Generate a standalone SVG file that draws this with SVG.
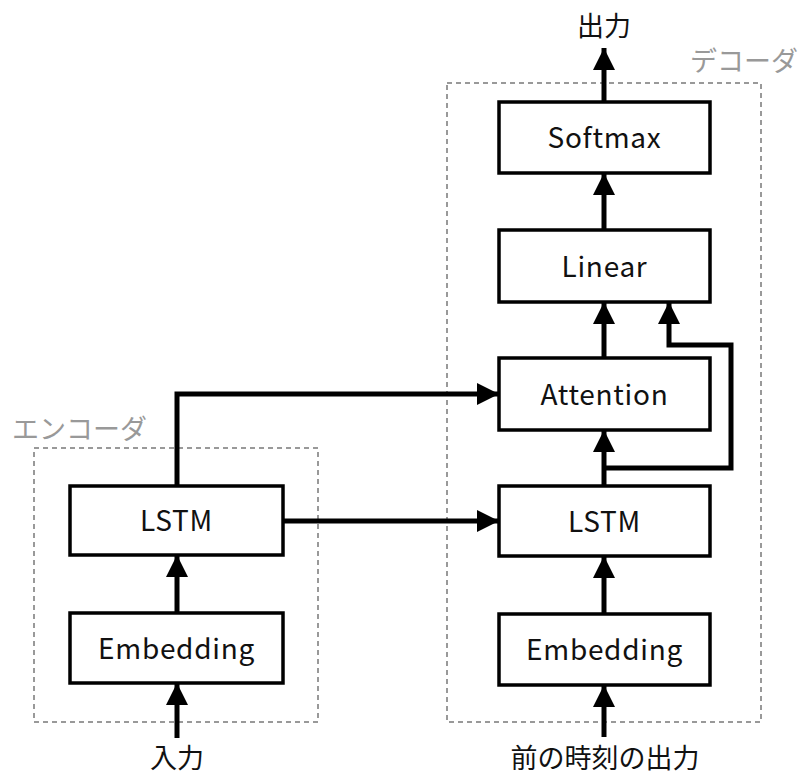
<svg xmlns="http://www.w3.org/2000/svg" width="807" height="778" viewBox="0 0 807 778">
  <defs>
    <marker id="arrow" viewBox="0 0 22 22" refX="22" refY="11" markerWidth="22" markerHeight="22" markerUnits="userSpaceOnUse" orient="auto">
      <path d="M0,0 L22,11 L0,22 Z" fill="#000"/>
    </marker>
    <style>
      .node rect { fill: #fff; stroke: #000; stroke-width: 3.5; }
      .node text { font-family: "Noto Sans CJK JP", "Noto Sans", sans-serif; font-size: 28px; letter-spacing: 0.7px; text-anchor: middle; fill: #111; }
      .group { fill: none; stroke: #999; stroke-width: 2; stroke-dasharray: 5 4; }
      .glabel { font-family: "Noto Sans CJK JP", sans-serif; font-size: 27px; fill: #999; }
      .io { font-family: "Noto Sans CJK JP", sans-serif; font-size: 27px; fill: #111; text-anchor: middle; }
      .edge { fill: none; stroke: #000; stroke-width: 5; marker-end: url(#arrow); }
    </style>
  </defs>
  <rect width="807" height="778" fill="#fff"/>

  <!-- encoder / decoder groups -->
  <rect class="group" x="34" y="448" width="284" height="274"/>
  <text class="glabel" x="12" y="439">エンコーダ</text>
  <rect class="group" x="447" y="83" width="314" height="639"/>
  <text class="glabel" x="690" y="71">デコーダ</text>

  <!-- connectors -->
  <g id="edges">
    <path class="edge" d="M177,738 V683"/>
    <path class="edge" d="M177,613 V555"/>
    <path class="edge" d="M177,486 V394 H499"/>
    <path class="edge" d="M283,521 H499"/>
    <path class="edge" d="M604,737 V685"/>
    <path class="edge" d="M604,613 V556"/>
    <path class="edge" d="M604,486 V430"/>
    <path class="edge" d="M604,468 H731 V345 H669 V302"/>
    <path class="edge" d="M604,358 V302"/>
    <path class="edge" d="M604,230 V173"/>
    <path class="edge" d="M604,102 V48"/>
  </g>

  <!-- encoder nodes -->
  <g id="enc-embedding" class="node">
    <rect x="70" y="613" width="213" height="70"/>
    <text x="176.5" y="659">Embedding</text>
  </g>
  <g id="enc-lstm" class="node">
    <rect x="70" y="486" width="213" height="69"/>
    <text x="176.5" y="531">LSTM</text>
  </g>

  <!-- decoder nodes -->
  <g id="dec-embedding" class="node">
    <rect x="499" y="614" width="211" height="71"/>
    <text x="604.5" y="660">Embedding</text>
  </g>
  <g id="dec-lstm" class="node">
    <rect x="499" y="486" width="211" height="70"/>
    <text x="604.5" y="532">LSTM</text>
  </g>
  <g id="attention" class="node">
    <rect x="499" y="358" width="211" height="72"/>
    <text x="604.5" y="405">Attention</text>
  </g>
  <g id="linear" class="node">
    <rect x="499" y="230" width="211" height="72"/>
    <text x="604.5" y="277">Linear</text>
  </g>
  <g id="softmax" class="node">
    <rect x="499" y="102" width="211" height="71"/>
    <text x="604.5" y="148">Softmax</text>
  </g>

  <!-- inputs / outputs -->
  <text class="io" x="177" y="768">入力</text>
  <text class="io" x="605" y="768">前の時刻の出力</text>
  <text class="io" x="604" y="36">出力</text>
</svg>
